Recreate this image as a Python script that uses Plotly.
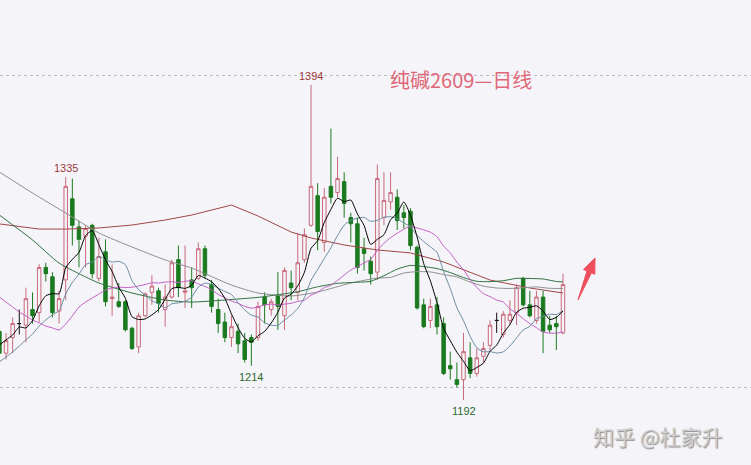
import plotly.graph_objects as go

# ---------------- data ----------------
idx = list(range(86))

opens = [1236, 1222, 1232, 1241, 1240, 1250, 1248, 1277, 1271, 1249,
         1269, 1321, 1303, 1297, 1304, 1270, 1287, 1257, 1255, 1255,
         1238, 1226, 1246, 1261, 1262, 1250, 1258, 1282, 1261, 1269,
         1270, 1289, 1266, 1250, 1242, 1232, 1236, 1230, 1232, 1232,
         1258, 1250, 1259, 1246, 1267, 1261, 1282, 1304, 1323, 1293,
         1329, 1325, 1332, 1309, 1305, 1289, 1281, 1274, 1309, 1319,
         1322, 1312, 1313, 1290, 1253, 1243, 1253, 1241, 1214, 1205,
         1205, 1219, 1209, 1220, 1227, 1243, 1234, 1243, 1248, 1270,
         1253, 1243, 1258, 1240, 1241, 1235]

highs = [1240, 1235, 1245, 1250, 1264, 1261, 1279, 1280, 1274, 1262,
         1335, 1334, 1307, 1304, 1305, 1296, 1295, 1279, 1267, 1256,
         1239, 1248, 1261, 1272, 1264, 1266, 1282, 1291, 1291, 1277,
         1293, 1291, 1269, 1257, 1248, 1246, 1241, 1235, 1234, 1255,
         1261, 1257, 1274, 1277, 1275, 1299, 1302, 1394, 1331, 1328,
         1366, 1348, 1338, 1312, 1309, 1296, 1284, 1343, 1338, 1338,
         1327, 1317, 1315, 1291, 1257, 1257, 1258, 1245, 1223, 1216,
         1235, 1229, 1225, 1229, 1243, 1248, 1249, 1256, 1266, 1271,
         1262, 1262, 1262, 1246, 1246, 1273]

lows = [1219, 1218, 1222, 1234, 1229, 1241, 1242, 1268, 1245, 1241,
        1256, 1291, 1277, 1277, 1270, 1268, 1252, 1246, 1251, 1236,
        1224, 1222, 1245, 1253, 1248, 1239, 1257, 1258, 1251, 1251,
        1269, 1270, 1248, 1235, 1229, 1226, 1222, 1216, 1214, 1230,
        1241, 1246, 1237, 1237, 1256, 1256, 1280, 1303, 1288, 1287,
        1318, 1322, 1309, 1293, 1273, 1275, 1266, 1269, 1304, 1314,
        1301, 1302, 1288, 1250, 1238, 1238, 1234, 1208, 1205, 1200,
        1192, 1206, 1207, 1216, 1224, 1235, 1232, 1240, 1240, 1252,
        1245, 1241, 1222, 1235, 1224, 1234]

closes = [1222, 1230, 1241, 1241, 1257, 1246, 1277, 1273, 1248, 1257,
          1329, 1304, 1295, 1302, 1273, 1284, 1255, 1258, 1252, 1237,
          1225, 1246, 1260, 1265, 1254, 1258, 1280, 1264, 1262, 1264,
          1289, 1272, 1252, 1241, 1232, 1239, 1228, 1218, 1229, 1252,
          1253, 1255, 1252, 1275, 1264, 1280, 1298, 1329, 1300, 1322,
          1322, 1334, 1318, 1305, 1277, 1286, 1273, 1334, 1320, 1325,
          1307, 1309, 1291, 1251, 1239, 1252, 1239, 1209, 1212, 1202,
          1223, 1209, 1219, 1225, 1240, 1243, 1247, 1247, 1264, 1253,
          1246, 1258, 1236, 1237, 1239, 1266]

ma5 = [1227.3, 1230.5, 1233.7, 1238.8, 1238.2, 1243.0, 1252.4, 1258.8, 1260.2, 1260.2,
       1276.8, 1282.2, 1286.6, 1297.4, 1300.6, 1291.6, 1281.8, 1274.4, 1264.4, 1257.2,
       1245.4, 1243.6, 1244.0, 1246.6, 1250.0, 1256.6, 1263.4, 1264.2, 1263.6, 1265.6,
       1271.8, 1270.2, 1267.8, 1263.6, 1257.2, 1247.2, 1238.4, 1231.6, 1229.2, 1233.2,
       1236.0, 1241.4, 1248.2, 1257.4, 1259.8, 1265.2, 1273.8, 1289.2, 1294.2, 1305.8,
       1314.2, 1321.4, 1319.2, 1320.2, 1311.2, 1304.0, 1291.8, 1295.0, 1298.0, 1307.6,
       1311.8, 1319.0, 1310.4, 1296.6, 1279.4, 1268.4, 1254.4, 1238.0, 1230.0, 1222.6,
       1216.8, 1210.8, 1212.8, 1215.6, 1223.2, 1227.2, 1234.8, 1240.4, 1248.2, 1250.8,
       1251.4, 1252.4, 1249.0, 1243.6, 1245.0, 1249.0]

ma10 = [1216.4, 1219.6, 1222.8, 1226.6, 1230.5, 1234.3, 1239.4, 1243.3, 1246.5, 1249.4,
        1260.0, 1267.4, 1272.7, 1278.8, 1280.4, 1284.1, 1282.0, 1280.4, 1280.9, 1278.8,
        1268.5, 1262.7, 1259.3, 1255.6, 1253.7, 1251.1, 1253.7, 1254.3, 1255.3, 1258.0,
        1264.4, 1266.9, 1266.1, 1263.7, 1261.6, 1259.6, 1254.4, 1249.8, 1246.4, 1245.2,
        1241.6, 1239.9, 1239.9, 1243.3, 1246.5, 1250.7, 1257.6, 1268.7, 1275.7, 1282.7,
        1289.6, 1297.5, 1304.1, 1307.2, 1308.5, 1309.1, 1306.6, 1307.2, 1309.2, 1309.5,
        1308.1, 1305.6, 1302.9, 1297.5, 1293.6, 1290.2, 1286.7, 1274.3, 1263.5, 1251.2,
        1242.8, 1232.8, 1225.5, 1222.9, 1223.0, 1222.1, 1222.9, 1226.6, 1231.8, 1236.9,
        1239.2, 1244.1, 1245.7, 1247.0, 1246.8, 1249.2]

ma20 = [1258.0, 1254.8, 1251.6, 1248.4, 1245.9, 1243.3, 1241.4, 1239.4, 1238.2, 1236.9,
        1240.7, 1245.9, 1251.6, 1254.8, 1257.4, 1259.9, 1262.5, 1263.8, 1264.4, 1264.1,
        1264.3, 1265.1, 1266.0, 1267.2, 1267.0, 1267.6, 1267.8, 1267.4, 1268.1, 1268.4,
        1266.4, 1264.8, 1262.7, 1259.7, 1257.6, 1255.4, 1254.0, 1252.0, 1250.9, 1251.6,
        1253.0, 1253.4, 1253.0, 1253.5, 1254.0, 1255.2, 1256.0, 1259.2, 1261.1, 1264.0,
        1265.6, 1268.7, 1272.1, 1275.3, 1277.5, 1279.9, 1282.1, 1287.9, 1292.5, 1296.1,
        1298.9, 1301.5, 1303.5, 1302.3, 1301.1, 1299.6, 1296.7, 1290.7, 1286.3, 1280.4,
        1275.4, 1269.2, 1264.2, 1260.2, 1258.3, 1256.1, 1254.8, 1250.4, 1247.6, 1244.1,
        1241.0, 1238.4, 1235.6, 1234.9, 1234.9, 1235.6]

ma40_idx = [0, 5, 9, 13, 15, 20, 25, 29, 34, 39, 42, 45, 48, 51, 54, 56, 58, 60,
            62, 64, 66, 68, 70, 72, 74, 76, 78, 80, 82, 84, 85]
ma40_val = [1310.6, 1294.6, 1279.8, 1270.9, 1267.0, 1260.6, 1256.1, 1254.8, 1256.1,
            1257.8, 1259.5, 1261.4, 1264.6, 1266.8, 1267.5, 1268.1, 1271.7, 1275.9,
            1278.3, 1277.5, 1276.3, 1273.7, 1270.5, 1268.1, 1267.9, 1268.5, 1270.0,
            1269.9, 1269.6, 1268.0, 1267.7]

ma60_idx = [0, 5, 10, 15, 20, 25, 29, 35, 39, 44, 48, 53, 57, 59, 61, 63, 65, 67,
            69, 71, 73, 75, 77, 79, 81, 83, 85]
ma60_val = [1338.2, 1324.7, 1311.9, 1299.1, 1290.1, 1281.8, 1276.6, 1265.7, 1260.6,
            1258.7, 1261.2, 1267.0, 1270.2, 1270.6, 1273.4, 1274.3, 1274.1, 1272.4,
            1270.9, 1267.6, 1265.0, 1263.8, 1263.5, 1263.9, 1264.5, 1263.6, 1263.5]

malong_idx = [0, 6, 10, 15, 20, 25, 29, 35, 39, 44, 47, 52, 57, 62, 67, 71, 74, 80, 85]
malong_val = [1304.9, 1301.6, 1301.6, 1302.3, 1304.2, 1307.4, 1310.6, 1317.0, 1310.0,
              1299.7, 1295.9, 1291.4, 1288.2, 1286.3, 1280.5, 1274.0, 1268.9, 1263.8,
              1260.6]

# peak / trough marks
mark_idx = [10, 47, 38, 70]
mark_val = [1335, 1394, 1214, 1192]
mark_top = [True, True, False, False]

title_text = "纯碱2609—日线"
watermark_text = "知乎 @杜家升"

# ---------------- styling ----------------
W, H = 751, 465
BG = "#f5f5f9"
UP = "#c8697a"
DOWN = "#1b7a1f"

fig = go.Figure()

doji = [i for i in idx if opens[i] == closes[i]]
body = [i for i in idx if opens[i] != closes[i]]

fig.add_trace(go.Candlestick(
    x=[idx[i] for i in body],
    open=[opens[i] for i in body], high=[highs[i] for i in body],
    low=[lows[i] for i in body], close=[closes[i] for i in body],
    increasing=dict(line=dict(color=UP, width=1), fillcolor="rgba(0,0,0,0)"),
    decreasing=dict(line=dict(color=DOWN, width=1), fillcolor=DOWN),
    whiskerwidth=0, showlegend=False, hoverinfo="skip"))

fig.add_trace(go.Candlestick(
    x=[idx[i] for i in doji],
    open=[opens[i] for i in doji], high=[highs[i] for i in doji],
    low=[lows[i] for i in doji], close=[closes[i] for i in doji],
    increasing=dict(line=dict(color="#111111", width=1), fillcolor="#111111"),
    decreasing=dict(line=dict(color="#111111", width=1), fillcolor="#111111"),
    whiskerwidth=0, showlegend=False, hoverinfo="skip"))

def add_line(xs, ys, color, shape="spline"):
    fig.add_trace(go.Scatter(x=xs, y=ys, mode="lines",
                             line=dict(color=color, width=1, shape=shape, smoothing=0.6),
                             showlegend=False, hoverinfo="skip"))

add_line(malong_idx, malong_val, "#a24545", shape="linear")
add_line(ma60_idx, ma60_val, "#8e9090")
add_line(ma40_idx, ma40_val, "#2f7040")
add_line(idx, ma20, "#c45cc4")
add_line(idx, ma10, "#6a8ca2")
add_line(idx, ma5, "#000000")

for xi, v, top in zip(mark_idx, mark_val, mark_top):
    fig.add_annotation(x=xi, y=v, text=str(v), showarrow=False,
                       xanchor="center", yanchor="bottom" if top else "top",
                       yshift=1 if top else -3,
                       font=dict(family="Liberation Sans", size=11,
                                 color="#9c3a3a" if top else "#2a6a2a"))

fig.add_annotation(xref="paper", yref="paper", x=388 / W, y=1 - 79 / H,
                   xanchor="left", yanchor="middle", showarrow=False,
                   text=title_text,
                   font=dict(family="Noto Sans CJK SC", size=20, color="#e06878"))

fig.add_annotation(xref="paper", yref="paper", x=591 / W, y=1 - 436 / H,
                   xanchor="left", yanchor="middle", showarrow=False,
                   text=watermark_text,
                   font=dict(family="Noto Sans CJK SC", size=21, color="#cdcdcd",
                             shadow="1px 1px 1px #8c8c8c"))

def pp(x, y):
    return f"{x / W:.4f},{1 - y / H:.4f}"

arrow_pts = [(578, 300), (587, 271), (583.5, 269.5), (595, 258), (594.8, 274.3), (591.5, 272.8)]
arrow_path = "M " + " L ".join(pp(*p) for p in arrow_pts) + " Z"
fig.add_shape(type="path", xref="paper", yref="paper", path=arrow_path,
              fillcolor="#ee4f5c", line=dict(color="#ee4f5c", width=1))

x_lo, x_hi = 0.09, 113.36
y_lo, y_hi = 1150.3, 1448.5

fig.update_layout(
    width=W, height=H, autosize=False,
    margin=dict(l=0, r=0, t=0, b=0),
    paper_bgcolor=BG, plot_bgcolor=BG,
    boxgap=0.25,
    xaxis=dict(range=[x_lo, x_hi], showgrid=False, zeroline=False, showline=False,
               showticklabels=False, ticks="", rangeslider=dict(visible=False), fixedrange=True),
    yaxis=dict(range=[y_lo, y_hi], tickvals=[1200, 1400], showgrid=True,
               gridcolor="#bdbdc4", gridwidth=1, griddash="3px,3px",
               zeroline=False, showline=False, showticklabels=False, ticks="", fixedrange=True),
)

fig.write_html("out.html", config={"displayModeBar": False},
               post_script="document.body.style.margin='0';document.body.style.background='#f5f5f9';")
